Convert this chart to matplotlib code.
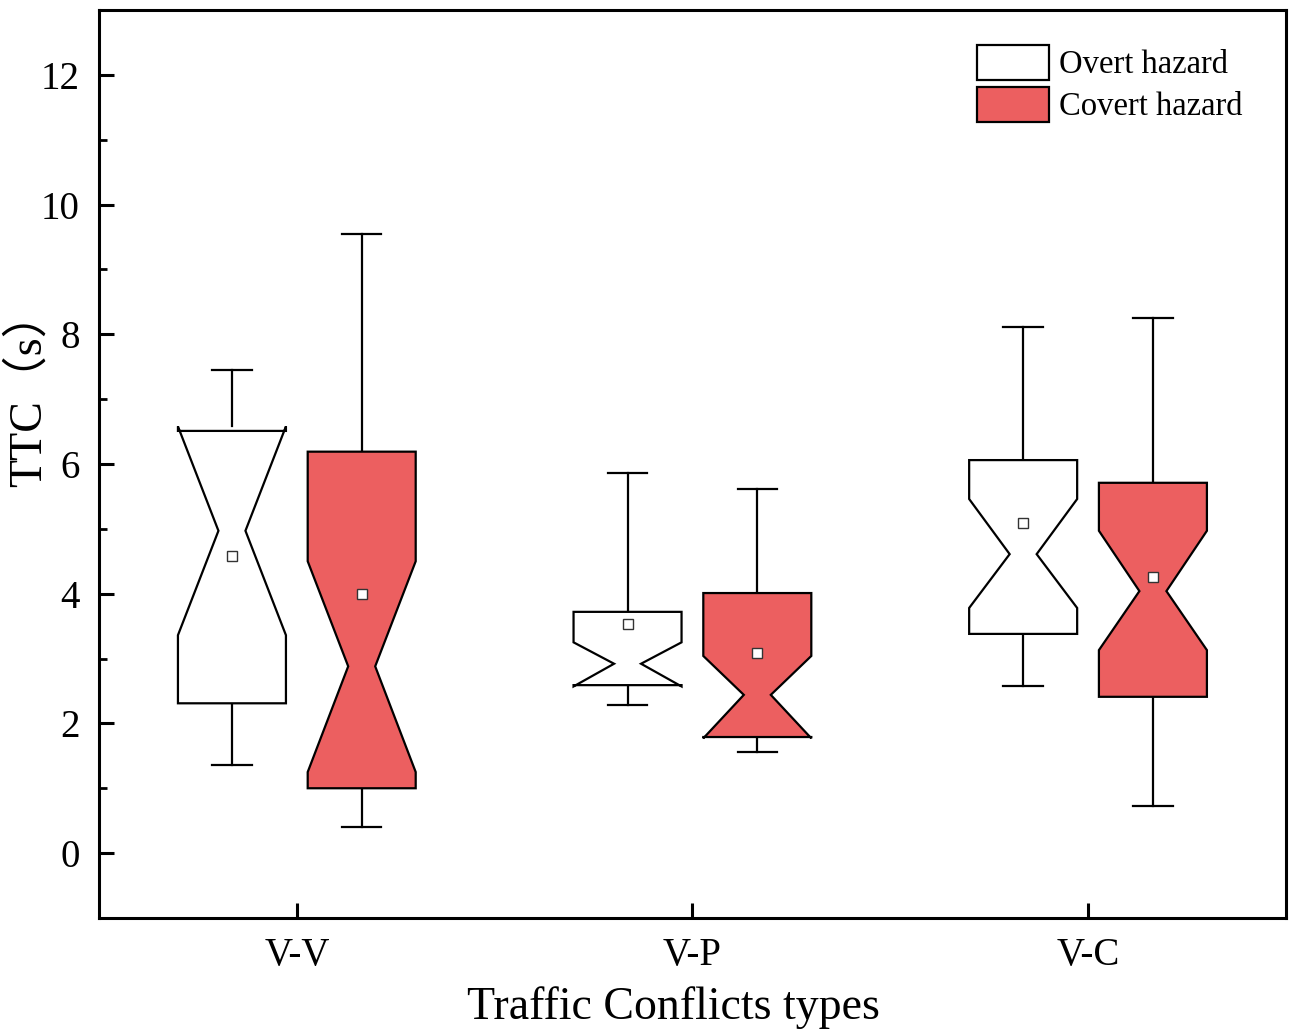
import matplotlib
matplotlib.use('Agg')
import matplotlib.pyplot as plt
from matplotlib.patches import Polygon, Patch
from matplotlib.ticker import MultipleLocator

plt.rcParams['font.family'] = ['Liberation Serif', 'Noto Sans CJK SC']

# Data (TTC in seconds)
categories = ['V-V', 'V-P', 'V-C']
groups = ['Overt hazard', 'Covert hazard']

overt_whislo = [1.36, 2.28, 2.58]
overt_q1 = [2.31, 2.59, 3.38]
overt_notch_lo = [3.36, 2.57, 3.78]
overt_median = [4.97, 2.92, 4.61]
overt_notch_hi = [6.58, 3.25, 5.46]
overt_q3 = [6.51, 3.72, 6.06]
overt_whishi = [7.45, 5.86, 8.11]
overt_mean = [4.58, 3.53, 5.09]

covert_whislo = [0.40, 1.56, 0.72]
covert_q1 = [1.00, 1.79, 2.41]
covert_notch_lo = [1.25, 1.77, 3.13]
covert_median = [2.88, 2.44, 4.04]
covert_notch_hi = [4.50, 3.04, 4.97]
covert_q3 = [6.19, 4.01, 5.71]
covert_whishi = [9.55, 5.61, 8.25]
covert_mean = [4.00, 3.08, 4.26]

colors = ['white', '#EC5F60']

fig = plt.figure(figsize=(12.91, 10.32), dpi=100)
ax = fig.add_axes([0.0767, 0.1105, 0.9193, 0.8798])

offset = 0.164
width = 0.273
cap = 0.10
lw = 1.6


def draw_box(x, wl, q1, nlo, med, nhi, q3, wh, mean, color):
    x0, x1 = x - width / 2, x + width / 2
    xi0, xi1 = x - width / 8, x + width / 8
    pts = [(x0, q1), (x0, nlo), (xi0, med), (x0, nhi), (x0, q3),
           (x1, q3), (x1, nhi), (xi1, med), (x1, nlo), (x1, q1)]
    ax.add_patch(Polygon(pts, closed=True, facecolor=color, edgecolor='black',
                         linewidth=lw, joinstyle='miter', zorder=3))
    top = max(q3, nhi)
    bot = min(q1, nlo)
    ax.plot([x, x], [top, wh], color='black', lw=lw, zorder=2)
    ax.plot([x, x], [bot, wl], color='black', lw=lw, zorder=2)
    ax.plot([x - cap / 2, x + cap / 2], [wh, wh], color='black', lw=lw, zorder=2)
    ax.plot([x - cap / 2, x + cap / 2], [wl, wl], color='black', lw=lw, zorder=2)
    ax.plot(x, mean, marker='s', ms=7, mfc='white', mec='#333333', mew=1.0, zorder=4)


for i in range(len(categories)):
    xc = i + 1
    draw_box(xc - offset, overt_whislo[i], overt_q1[i], overt_notch_lo[i], overt_median[i],
             overt_notch_hi[i], overt_q3[i], overt_whishi[i], overt_mean[i], colors[0])
    draw_box(xc + offset, covert_whislo[i], covert_q1[i], covert_notch_lo[i], covert_median[i],
             covert_notch_hi[i], covert_q3[i], covert_whishi[i], covert_mean[i], colors[1])

ax.set_xlim(0.5, 3.5)
ax.set_ylim(-1, 13)
ax.set_xticks([1, 2, 3])
ax.set_xticklabels(categories)
ax.yaxis.set_major_locator(MultipleLocator(2))
ax.yaxis.set_minor_locator(MultipleLocator(1))
ax.set_yticks(range(0, 13, 2))

for s in ax.spines.values():
    s.set_linewidth(2.2)

ax.tick_params(axis='both', which='major', direction='in', length=11, width=2.2,
               labelsize=28)
ax.tick_params(axis='y', which='minor', direction='in', length=6, width=2.0)
ax.tick_params(axis='x', which='major', pad=14)
ax.tick_params(axis='y', which='major', pad=14)

ax.set_xlabel('Traffic Conflicts types', fontsize=33, labelpad=6)
ax.xaxis.set_label_coords(0.484, -0.075)
ax.set_ylabel('TTC（s）', fontsize=33)
ax.yaxis.set_label_coords(-0.041, 0.583)

handles = [Patch(facecolor=c, edgecolor='black', linewidth=1.6) for c in colors]
ax.legend(handles, groups, loc='upper left', bbox_to_anchor=(0.74, 0.962),
          frameon=False, fontsize=23.5, handlelength=2.2, handleheight=1.3,
          handletextpad=0.3, labelspacing=0.2, borderpad=0, borderaxespad=0)

fig.savefig('out.png', dpi=100)
